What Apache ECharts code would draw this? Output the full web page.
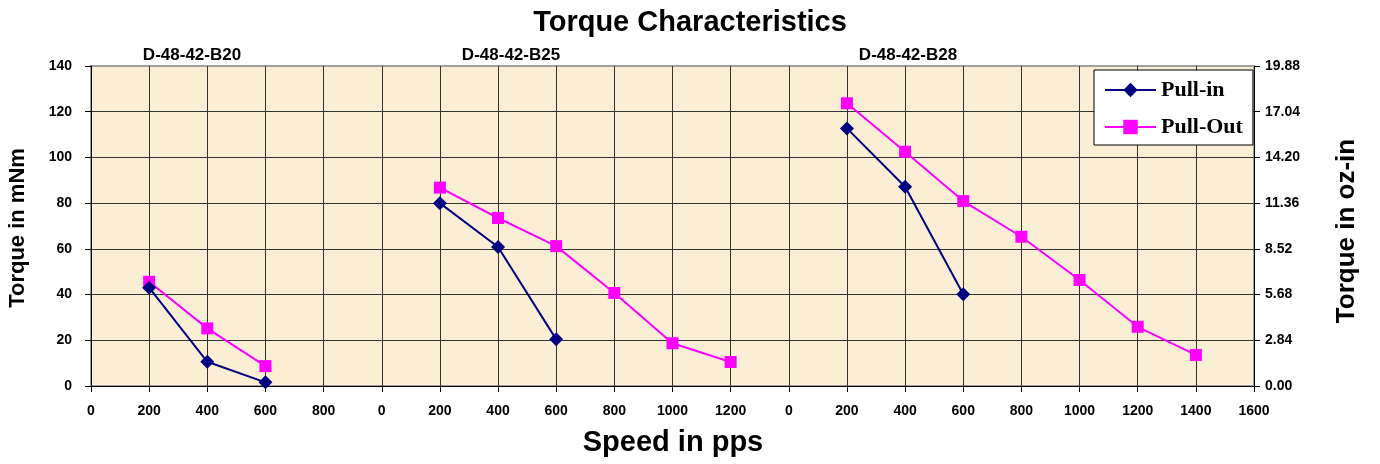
<!DOCTYPE html>
<html>
<head>
<meta charset="utf-8">
<script src="https://cdn.jsdelivr.net/npm/echarts@6/dist/echarts.min.js"></script>
<style>
  html, body { margin: 0; padding: 0; background: #fff; }
  #chart { width: 1380px; height: 464px; }
</style>
</head>
<body>
<div id="chart"></div>
<script>
// ---- Data ----
const chartTitle = 'Torque Characteristics';
const motorNames = ['D-48-42-B20', 'D-48-42-B25', 'D-48-42-B28'];
// x tick labels: each motor block has its own speed scale (pps)
const speedLabels = ['0','200','400','600','800',
                     '0','200','400','600','800','1000','1200',
                     '0','200','400','600','800','1000','1200','1400','1600'];
// Torque (mNm) per motor, at the speeds listed
const b20Speeds = [200, 400, 600];
const b20PullIn = [43, 10.6, 1.6];
const b20PullOut = [45.6, 25.2, 8.7];
const b25PullInSpeeds = [200, 400, 600];
const b25PullIn = [80, 60.8, 20.4];
const b25PullOutSpeeds = [200, 400, 600, 800, 1000, 1200];
const b25PullOut = [86.8, 73.5, 61.2, 40.7, 18.7, 10.5];
const b28PullInSpeeds = [200, 400, 600];
const b28PullIn = [112.7, 87.2, 40.1];
const b28PullOutSpeeds = [200, 400, 600, 800, 1000, 1200, 1400];
const b28PullOut = [123.7, 102.5, 80.9, 65.3, 46.4, 25.9, 13.6];
// category index where each motor block's "0" sits
const blockStart = [0, 5, 12];
const ozInTicks = ['0.00','2.84','5.68','8.52','11.36','14.20','17.04','19.88'];

// ---- Build full-length series arrays (null = gap between blocks) ----
function place(target, start, speeds, values) {
  speeds.forEach((s, i) => { target[start + s / 200] = values[i]; });
}
const pullIn = speedLabels.map(() => null);
const pullOut = speedLabels.map(() => null);
place(pullIn, blockStart[0], b20Speeds, b20PullIn);
place(pullOut, blockStart[0], b20Speeds, b20PullOut);
place(pullIn, blockStart[1], b25PullInSpeeds, b25PullIn);
place(pullOut, blockStart[1], b25PullOutSpeeds, b25PullOut);
place(pullIn, blockStart[2], b28PullInSpeeds, b28PullIn);
place(pullOut, blockStart[2], b28PullOutSpeeds, b28PullOut);

const SANS = '"Liberation Sans", Arial, sans-serif';
const SERIF = '"Liberation Serif", "Times New Roman", serif';
const chart = echarts.init(document.getElementById('chart'), null, { renderer: 'canvas' });

chart.setOption({
  animation: false,
  backgroundColor: '#ffffff',
  grid: {
    left: 91, right: 126, top: 66, bottom: 78,
    show: true, backgroundColor: '#FAEFD5', borderColor: '#A0A0A0', borderWidth: 2
  },
  legend: {
    orient: 'vertical',
    left: 1094, top: 70,
    backgroundColor: '#ffffff', borderColor: '#000000', borderWidth: 1,
    padding: [9, 10, 7, 10],
    itemGap: 15,
    itemWidth: 51, itemHeight: 18,
    textStyle: { fontFamily: SERIF, fontWeight: 'bold', fontSize: 22, color: '#000' },
    data: ['Pull-in', 'Pull-Out']
  },
  xAxis: {
    type: 'category',
    data: speedLabels,
    boundaryGap: false,
    axisLine: { show: true, lineStyle: { color: '#000', width: 1 } },
    axisTick: { show: true, inside: false, length: 6, lineStyle: { color: '#000' } },
    axisLabel: { interval: 0, margin: 18, fontFamily: SANS, fontWeight: 'bold', fontSize: 14, color: '#000' },
    splitLine: { show: true, lineStyle: { color: '#333', width: 1 } }
  },
  yAxis: [
    {
      type: 'value', min: 0, max: 140, interval: 20,
      axisLine: { show: true, lineStyle: { color: '#000', width: 1 } },
      axisTick: { show: true, length: 6, lineStyle: { color: '#000' } },
      axisLabel: { margin: 19, fontFamily: SANS, fontWeight: 'bold', fontSize: 14, color: '#000' },
      splitLine: { show: true, showMaxLine: false, lineStyle: { color: '#333', width: 1 } }
    },
    {
      type: 'value', min: 0, max: 19.88, interval: 2.84,
      position: 'right',
      axisLine: { show: true, lineStyle: { color: '#000', width: 1 } },
      axisTick: { show: true, length: 6, lineStyle: { color: '#000' } },
      axisLabel: {
        margin: 11, fontFamily: SANS, fontWeight: 'bold', fontSize: 14, color: '#000',
        formatter: (v) => {
          const i = Math.round(v / 2.84);
          return ozInTicks[i] !== undefined ? ozInTicks[i] : v.toFixed(2);
        }
      },
      splitLine: { show: false }
    }
  ],
  series: [
    {
      name: 'Pull-in', type: 'line', data: pullIn, connectNulls: false,
      symbol: 'diamond', symbolSize: 14, showAllSymbol: true,
      itemStyle: { color: '#000080' },
      lineStyle: { color: '#000080', width: 2 },
      z: 3
    },
    {
      name: 'Pull-Out', type: 'line', data: pullOut, connectNulls: false,
      symbol: 'rect', symbolSize: 12, showAllSymbol: true,
      itemStyle: { color: '#FF00FF' },
      lineStyle: { color: '#FF00FF', width: 2 },
      z: 2
    }
  ],
  graphic: [
    { type: 'text', left: 'center', top: 8,
      style: { text: chartTitle, x: 0, font: 'bold 29px ' + SANS, fill: '#000' } },
    { type: 'text', x: 192, y: 55,
      style: { text: motorNames[0], font: 'bold 17px ' + SANS, fill: '#000', textAlign: 'center', textVerticalAlign: 'middle' } },
    { type: 'text', x: 511, y: 55,
      style: { text: motorNames[1], font: 'bold 17px ' + SANS, fill: '#000', textAlign: 'center', textVerticalAlign: 'middle' } },
    { type: 'text', x: 908, y: 55,
      style: { text: motorNames[2], font: 'bold 17px ' + SANS, fill: '#000', textAlign: 'center', textVerticalAlign: 'middle' } },
    { type: 'text', x: 673, y: 443,
      style: { text: 'Speed in pps', font: 'bold 29px ' + SANS, fill: '#000', textAlign: 'center', textVerticalAlign: 'middle' } },
    { type: 'text', x: 18, y: 228, rotation: Math.PI / 2,
      style: { text: 'Torque in mNm', font: 'bold 22px ' + SANS, fill: '#000', textAlign: 'center', textVerticalAlign: 'middle' } },
    { type: 'text', x: 1347, y: 231, rotation: Math.PI / 2,
      style: { text: 'Torque in oz-in', font: 'bold 26px ' + SANS, fill: '#000', textAlign: 'center', textVerticalAlign: 'middle' } }
  ]
});
</script>
</body>
</html>
